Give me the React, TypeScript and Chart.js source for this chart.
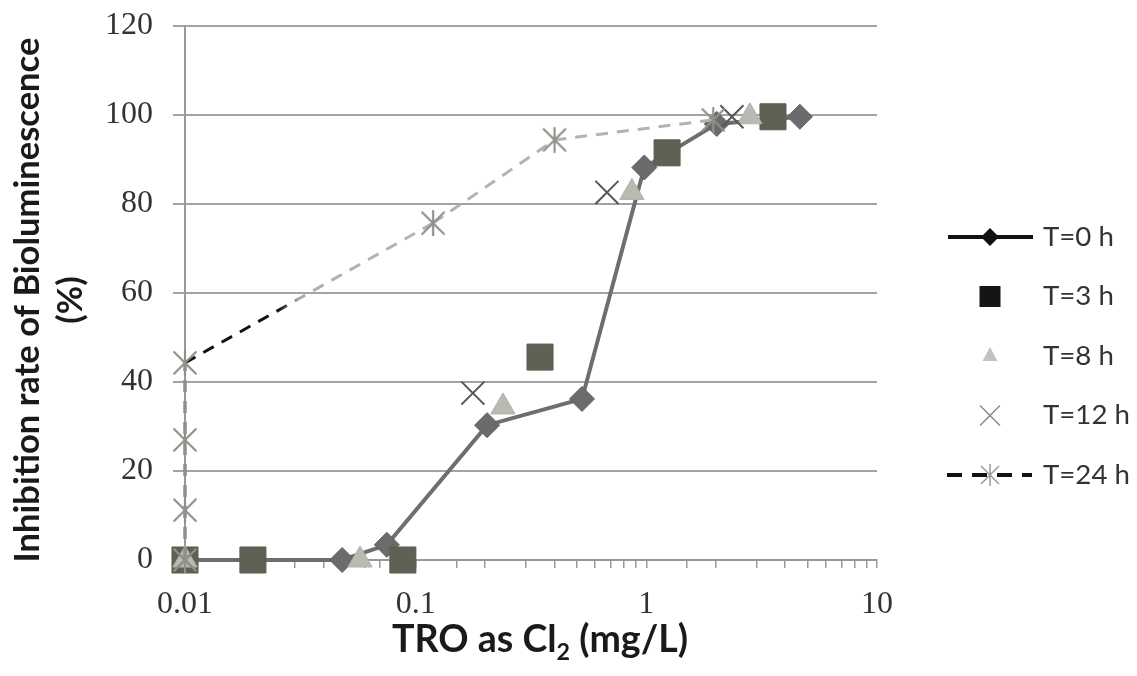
import React, { useEffect, useRef } from 'react';
import { Chart, registerables } from 'chart.js';

Chart.register(...registerables);

// ---- data ----
const seriesLabels = ['T=0 h', 'T=3 h', 'T=8 h', 'T=12 h', 'T=24 h'];
const t0X = [0.01, 0.048, 0.075, 0.204, 0.526, 0.98, 2.02, 4.63];
const t0Y = [0, 0, 3.4, 30.3, 36.2, 88.2, 98, 99.6];
const t3X = [0.01, 0.0197, 0.088, 0.346, 1.23, 3.54];
const t3Y = [0, 0, 0, 45.6, 91.5, 99.6];
const t8X = [0.01, 0.0574, 0.239, 0.866, 2.81];
const t8Y = [0, 0, 34.4, 82.6, 99.6];
const t12X = [0.01, 0.177, 0.675, 2.35];
const t12Y = [0, 37.5, 82.6, 99.6];
const t24X = [0.01, 0.01, 0.01, 0.01, 0.119, 0.4, 1.95];
const t24Y = [0, 11.2, 27, 44.3, 75.7, 94.4, 98.9];
const xTickValues = [0.01, 0.1, 1, 10];
const xTickLabels = ['0.01', '0.1', '1', '10'];
const yTickMin = 0;
const yTickMax = 120;
const yTickStep = 20;
const yTitleLines = ['Inhibition rate of Bioluminescence', '(%)'];
const xTitleParts = ['TRO as Cl', '2', ' (mg/L)'];

const toPoints = (xs: number[], ys: number[]) => xs.map((x, i) => ({ x, y: ys[i] }));

function makeStar(size: number, color: string, lw: number) {
  const c = document.createElement('canvas');
  c.width = size;
  c.height = size;
  const g = c.getContext('2d')!;
  g.strokeStyle = color;
  g.lineWidth = lw;
  g.lineCap = 'round';
  const m = lw;
  g.beginPath();
  g.moveTo(m, m);
  g.lineTo(size - m, size - m);
  g.moveTo(size - m, m);
  g.lineTo(m, size - m);
  g.moveTo(size / 2, 1);
  g.lineTo(size / 2, size - 1);
  g.stroke();
  return c;
}

const TITLE_FONT = 'Lato';

const overlayPlugin = {
  id: 'overlay',
  afterDraw(chart: any) {
    const ctx: CanvasRenderingContext2D = chart.ctx;
    ctx.save();
    // ---- Y title ----
    ctx.fillStyle = '#1a1a1a';
    ctx.font = `bold 100px ${TITLE_FONT}`;
    const w1 = ctx.measureText(yTitleLines[0]).width;
    const ys = (100 * 525) / w1;
    ctx.font = `bold ${ys}px ${TITLE_FONT}`;
    ctx.textAlign = 'center';
    ctx.textBaseline = 'middle';
    ctx.save();
    ctx.translate(28, 300);
    ctx.rotate(-Math.PI / 2);
    ctx.fillText(yTitleLines[0], 0, 0);
    ctx.restore();
    ctx.save();
    ctx.translate(71, 300);
    ctx.rotate(-Math.PI / 2);
    ctx.fillText(yTitleLines[1], 0, 0);
    ctx.restore();

    // ---- X title ----
    const subRatio = 0.62;
    ctx.font = `bold 100px ${TITLE_FONT}`;
    const a = ctx.measureText(xTitleParts[0]).width;
    const c = ctx.measureText(xTitleParts[2]).width;
    ctx.font = `bold ${100 * subRatio}px ${TITLE_FONT}`;
    const b = ctx.measureText(xTitleParts[1]).width;
    const xs = (100 * 296) / (a + b + c);
    let x = 392;
    const yBase = 652;
    ctx.textAlign = 'left';
    ctx.textBaseline = 'alphabetic';
    ctx.font = `bold ${xs}px ${TITLE_FONT}`;
    ctx.fillText(xTitleParts[0], x, yBase);
    x += ctx.measureText(xTitleParts[0]).width;
    ctx.font = `bold ${xs * subRatio}px ${TITLE_FONT}`;
    ctx.fillText(xTitleParts[1], x, yBase + xs * 0.2);
    x += ctx.measureText(xTitleParts[1]).width;
    ctx.font = `bold ${xs}px ${TITLE_FONT}`;
    ctx.fillText(xTitleParts[2], x, yBase);

    // ---- Legend ----
    ctx.font = `100px ${TITLE_FONT}`;
    const lw = ctx.measureText('T=12 h').width;
    const ls = (100 * 87) / lw;
    ctx.font = `${ls}px ${TITLE_FONT}`;
    ctx.textBaseline = 'middle';
    ctx.textAlign = 'left';
    const mx = 990;
    seriesLabels.forEach((label, i) => {
      const y = 237 + i * 59.5;
      ctx.save();
      if (i === 0) {
        ctx.strokeStyle = '#111';
        ctx.lineWidth = 4;
        ctx.beginPath();
        ctx.moveTo(948, y);
        ctx.lineTo(1033, y);
        ctx.stroke();
        ctx.fillStyle = '#111';
        ctx.beginPath();
        ctx.moveTo(mx - 9, y);
        ctx.lineTo(mx, y - 9);
        ctx.lineTo(mx + 9, y);
        ctx.lineTo(mx, y + 9);
        ctx.closePath();
        ctx.fill();
      } else if (i === 1) {
        ctx.fillStyle = '#151515';
        ctx.fillRect(mx - 10.5, y - 10.5, 21, 21);
      } else if (i === 2) {
        ctx.fillStyle = '#c2c4bb';
        ctx.beginPath();
        ctx.moveTo(mx, y - 9);
        ctx.lineTo(mx + 7.5, y + 5);
        ctx.lineTo(mx - 7.5, y + 5);
        ctx.closePath();
        ctx.fill();
      } else if (i === 3) {
        ctx.strokeStyle = '#8a8a8a';
        ctx.lineWidth = 1.5;
        ctx.beginPath();
        ctx.moveTo(mx - 10, y - 10);
        ctx.lineTo(mx + 10, y + 10);
        ctx.moveTo(mx + 10, y - 10);
        ctx.lineTo(mx - 10, y + 10);
        ctx.stroke();
      } else {
        ctx.strokeStyle = '#111';
        ctx.lineWidth = 4;
        ctx.setLineDash([15, 10]);
        ctx.beginPath();
        ctx.moveTo(947, y);
        ctx.lineTo(1032, y);
        ctx.stroke();
        ctx.setLineDash([]);
        ctx.strokeStyle = '#999';
        ctx.lineWidth = 1.5;
        ctx.beginPath();
        ctx.moveTo(mx - 9, y - 9);
        ctx.lineTo(mx + 9, y + 9);
        ctx.moveTo(mx + 9, y - 9);
        ctx.lineTo(mx - 9, y + 9);
        ctx.moveTo(mx, y - 11);
        ctx.lineTo(mx, y + 11);
        ctx.stroke();
      }
      ctx.restore();
      ctx.fillStyle = '#333';
      ctx.fillText(label, 1043, y);
    });
    ctx.restore();
  },
};

export default function App() {
  const canvasRef = useRef<HTMLCanvasElement | null>(null);

  useEffect(() => {
    const canvas = canvasRef.current;
    if (!canvas) return;
    const star = makeStar(26, '#8f928a', 2.2);

    const chart = new Chart(canvas, {
      type: 'scatter',
      data: {
        datasets: [
          {
            label: seriesLabels[0],
            data: toPoints(t0X, t0Y),
            showLine: true,
            borderColor: '#6e6e6e',
            borderWidth: 4,
            pointStyle: 'rectRot',
            pointRadius: 12.5,
            pointBackgroundColor: '#6b6b6b',
            pointBorderColor: '#5e5e5e',
            pointBorderWidth: 1,
            clip: false,
            order: 4,
          },
          {
            label: seriesLabels[1],
            data: toPoints(t3X, t3Y),
            showLine: false,
            pointStyle: 'rect',
            pointRadius: 18.4,
            pointBackgroundColor: '#5e6254',
            pointBorderColor: '#5a5d50',
            pointBorderWidth: 1,
            clip: false,
            order: 3,
          },
          {
            label: seriesLabels[2],
            data: toPoints(t8X, t8Y),
            showLine: false,
            pointStyle: 'triangle',
            pointRadius: 14,
            pointBackgroundColor: '#b8bbb1',
            pointBorderColor: '#b0b3a8',
            pointBorderWidth: 1,
            clip: false,
            order: 2,
          },
          {
            label: seriesLabels[3],
            data: toPoints(t12X, t12Y),
            showLine: false,
            pointStyle: 'crossRot',
            pointRadius: 16.3,
            pointBorderColor: '#555',
            pointBorderWidth: 2,
            clip: false,
            order: 1,
          },
          {
            label: seriesLabels[4],
            data: toPoints(t24X, t24Y),
            showLine: true,
            borderColor: '#a9aba3',
            borderWidth: 3,
            borderDash: [12, 9],
            pointStyle: star as any,
            pointRadius: 13,
            clip: false,
            order: 0,
            segment: {
              borderColor: (sc: any) => {
                if (sc.p0DataIndex === 3) {
                  const g = sc.chart.ctx.createLinearGradient(sc.p0.x, 0, sc.p1.x, 0);
                  g.addColorStop(0, '#111');
                  g.addColorStop(0.38, '#111');
                  g.addColorStop(0.46, '#b0b0a8');
                  g.addColorStop(1, '#b5b6ae');
                  return g;
                }
                if (sc.p0DataIndex < 3) return '#8e8f89';
                return '#b3b4ac';
              },
              borderWidth: (sc: any) => (sc.p0DataIndex < 3 ? 3.5 : 3),
            },
          } as any,
        ],
      },
      options: {
        responsive: false,
        animation: false,
        events: [],
        layout: { padding: { left: 0, right: 260, top: 26, bottom: 0 } },
        plugins: {
          legend: { display: false },
          tooltip: { enabled: false },
          title: { display: false },
        },
        scales: {
          x: {
            type: 'logarithmic',
            position: 'bottom',
            min: xTickValues[0],
            max: xTickValues[xTickValues.length - 1],
            afterFit: (s: any) => {
              s.height = 116;
              s.paddingLeft = 0;
              s.paddingRight = 0;
            },
            ticks: {
              autoSkip: false,
              maxRotation: 0,
              minRotation: 0,
              padding: 17,
              color: '#333',
              font: { family: 'Liberation Serif', size: 32 },
              callback: (v: any) => {
                const idx = xTickValues.findIndex((t) => Math.abs(Math.log10(t) - Math.log10(Number(v))) < 1e-6);
                return idx >= 0 ? xTickLabels[idx] : '';
              },
            },
            grid: {
              drawOnChartArea: false,
              drawTicks: true,
              tickLength: 8,
              color: '#999',
              lineWidth: 1.5,
            },
            border: { display: true, color: '#999', width: 2 },
          },
          y: {
            type: 'linear',
            min: yTickMin,
            max: yTickMax,
            afterFit: (s: any) => {
              s.width = 185;
              s.paddingTop = 0;
              s.paddingBottom = 0;
            },
            ticks: {
              stepSize: yTickStep,
              padding: 20,
              color: '#333',
              font: { family: 'Liberation Serif', size: 32 },
            },
            grid: {
              color: '#a3a3a3',
              lineWidth: 2,
              tickLength: 12,
              drawTicks: true,
            },
            border: { display: true, color: '#999', width: 2 },
          },
        },
      } as any,
      plugins: [overlayPlugin],
    });
    return () => chart.destroy();
  }, []);

  return (
    <div style={{ position: 'fixed', left: 0, top: 0, width: 1137, height: 676, background: '#fff' }}>
      <canvas ref={canvasRef} width={1137} height={676} style={{ display: 'block', width: 1137, height: 676 }} />
    </div>
  );
}
